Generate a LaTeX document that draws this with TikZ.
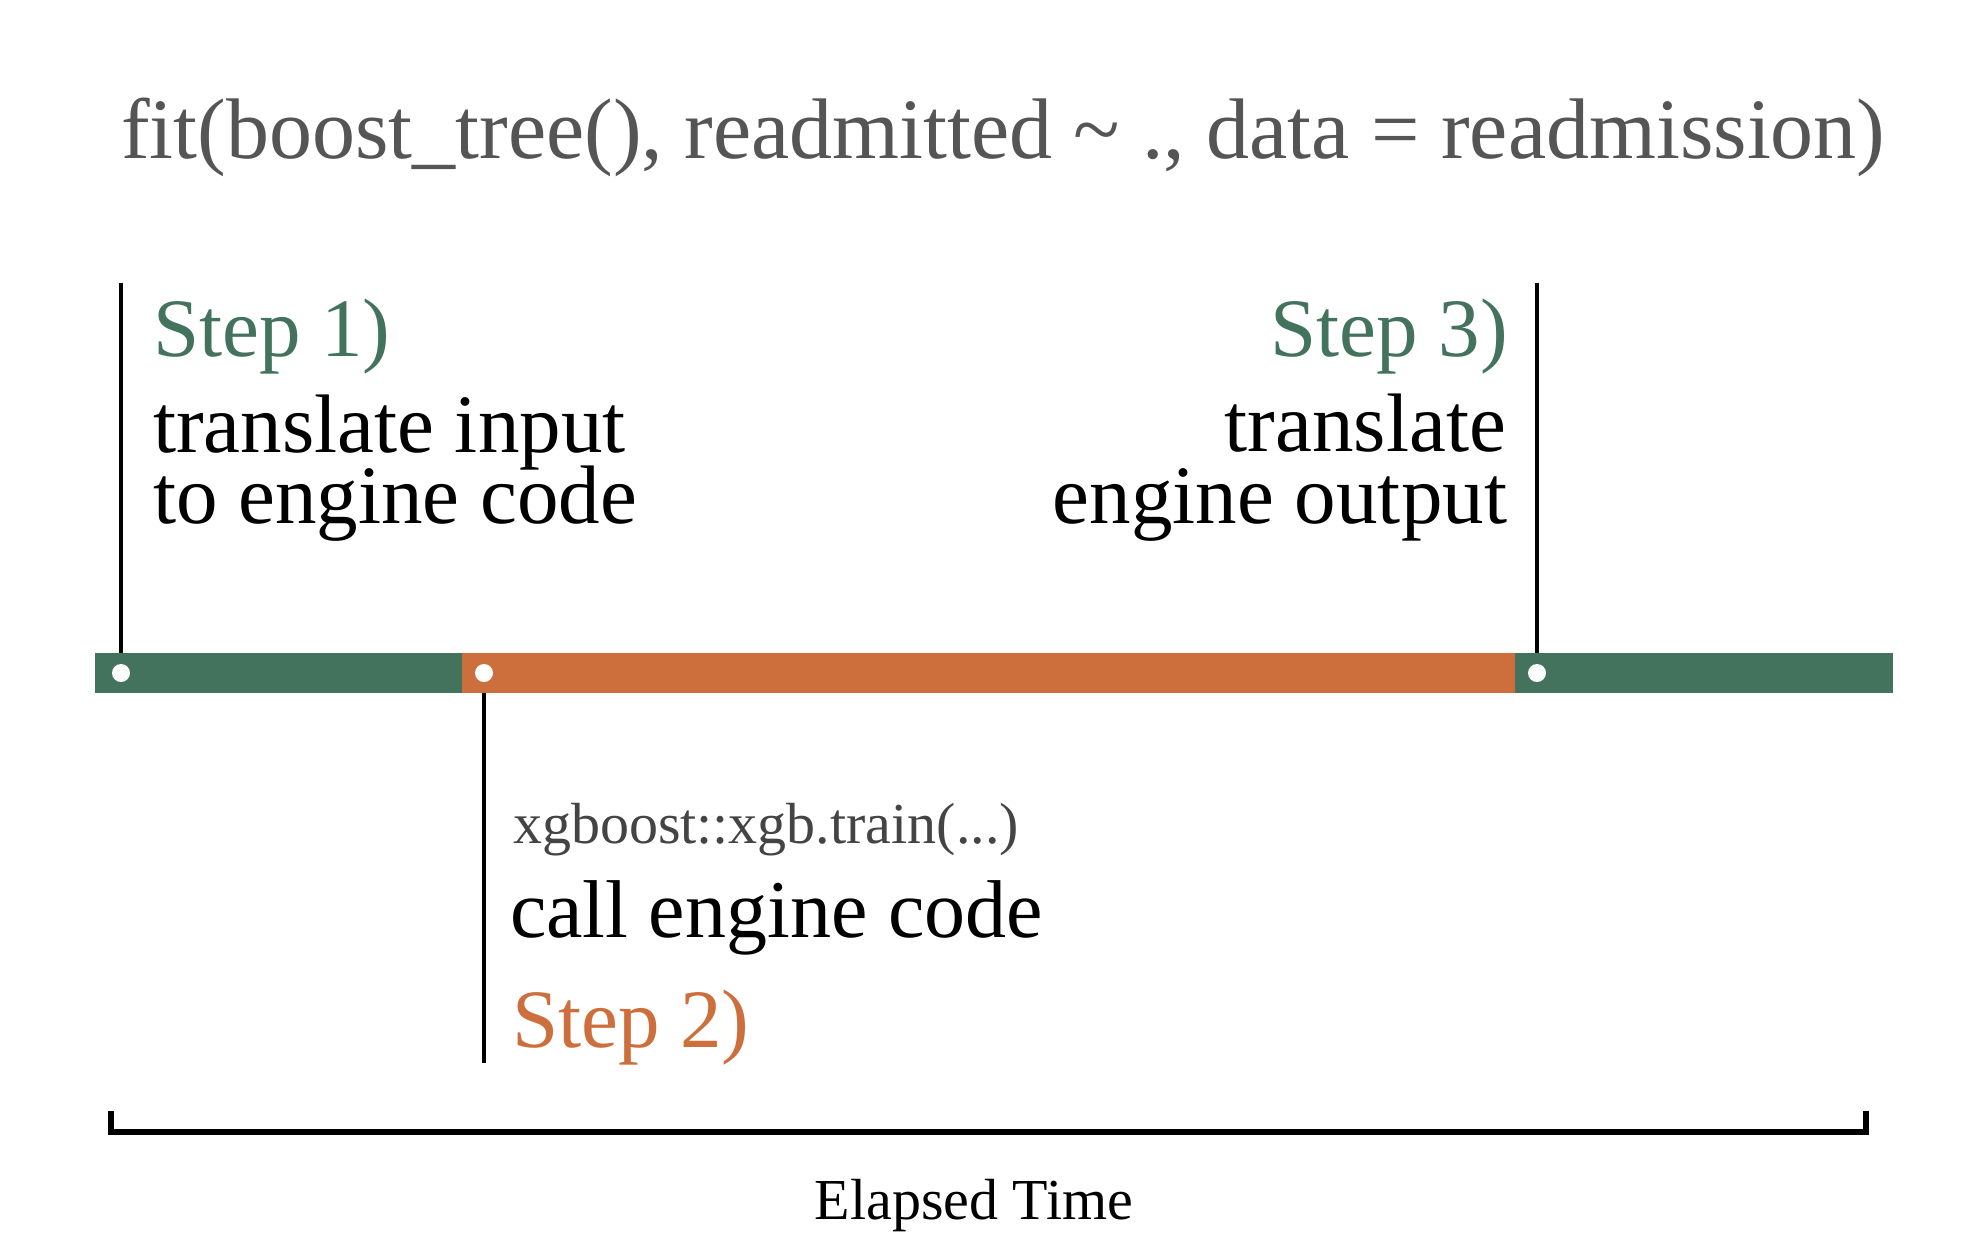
\documentclass[tikz,border=0pt]{standalone}
\usepackage{fontspec}
\setmainfont{Liberation Serif}
\usetikzlibrary{backgrounds}
\definecolor{tgreen}{HTML}{43735C}
\definecolor{torange}{HTML}{CD6F3C}
\definecolor{tgray}{HTML}{555555}
\definecolor{cgray}{HTML}{444444}
\begin{document}
\begin{tikzpicture}[x=0.5pt,y=-0.5pt,
  txt/.style={inner sep=0pt,outer sep=0pt},
  big/.style={txt,font=\fontsize{41.5}{50}\selectfont},
  marker/.style={circle,fill=white,draw=none,minimum size=9pt,inner sep=0pt},
  tick/.style={line width=2.3pt},
  bracketline/.style={line width=2.6pt}]
\useasboundingbox (0,0) rectangle (1973,1255);

% title
\node[txt,anchor=base west,text=tgray,font=\fontsize{43}{50}\selectfont] (title) at (121,158)
  {fit(boost\_tree(), readmitted \textasciitilde{} ., data = readmission)};

% markers on the bar
\node[marker] (m1) at (121,673) {};
\node[marker] (m2) at (484,673) {};
\node[marker] (m3) at (1537,673) {};

\coordinate (t1) at (121,283);
\coordinate (t3) at (1537,283);
\coordinate (b2) at (484,1063);

\begin{pgfonlayer}{background}
  \draw[tick] (t1) -- (m1.center);
  \draw[tick] (t3) -- (m3.center);
  \draw[tick] (m2.center) -- (b2);
  \fill[tgreen] (95,653) rectangle (462,693);
  \fill[torange] (462,653) rectangle (1515,693);
  \fill[tgreen] (1515,653) rectangle (1893,693);
\end{pgfonlayer}

% step 1
\node[big,anchor=base west,text=tgreen,text depth=0pt] (s1) at (153,356) {Step 1)};
\node[big,anchor=base west,text depth=0pt] (s1a) at (153,452) {translate input};
\node[big,anchor=base west] (s1b) at (153,523) {to engine code};

% step 3
\node[big,anchor=base east,text=tgreen,text depth=0pt] (s3) at (1508,356) {Step 3)};
\node[big,anchor=base east,text depth=0pt] (s3a) at (1506,451) {translate};
\node[big,anchor=base east] (s3b) at (1507,523) {engine output};

% step 2
\node[txt,anchor=base west,text=cgray,font=\fontsize{29}{35}\selectfont,text depth=0pt] (s2c) at (513,843) {xgboost::xgb.train(...)};
\node[big,anchor=base west,font=\fontsize{41}{50}\selectfont,text depth=0pt] (s2a) at (510,937) {call engine code};
\node[big,anchor=base west,text=torange] (s2) at (512,1047) {Step 2)};

% elapsed time bracket
\coordinate (bl) at (111,1111);
\coordinate (br) at (1866,1111);
\draw[bracketline] (bl) -- ++(0,21) -| (br);
\node[txt,anchor=base,font=\fontsize{29}{35}\selectfont] (elapsed) at (974,1219) {Elapsed Time};
\end{tikzpicture}
\end{document}
